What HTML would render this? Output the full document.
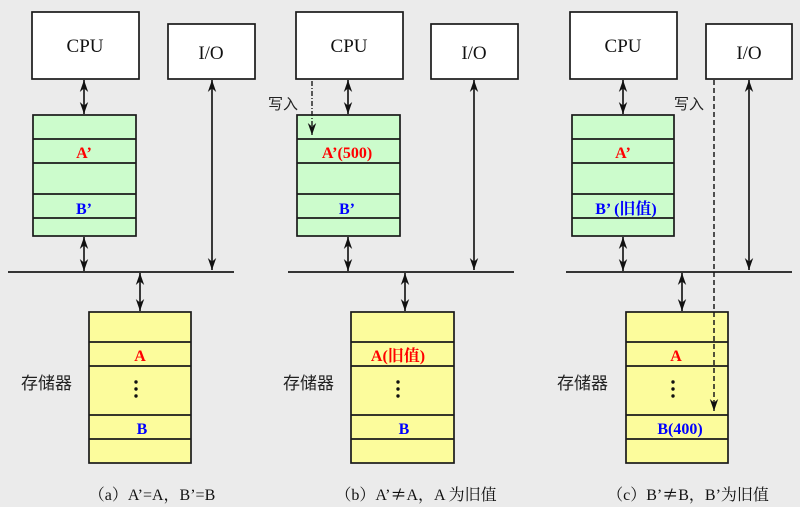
<!DOCTYPE html>
<html><head><meta charset="utf-8"><style>
html,body{margin:0;padding:0;background:#ebebeb;}
svg{display:block;}
.s{font-family:"Liberation Serif","Noto Serif CJK SC",serif;}
.c{font-family:"Liberation Sans","Noto Sans CJK SC",sans-serif;}
</style></head><body>
<svg width="800" height="507" viewBox="0 0 800 507" xmlns="http://www.w3.org/2000/svg">
<defs>
<marker id="ah" viewBox="0 0 10 10" refX="10" refY="5" markerWidth="12" markerHeight="12" orient="auto-start-reverse" markerUnits="userSpaceOnUse">
<path d="M0,1.5 L10,5 L0,8.5 L3,5 z" fill="#111"/>
</marker>
</defs>
<rect x="0" y="0" width="800" height="507" fill="#ebebeb"/>
<g stroke="#1a1a1a" stroke-width="1.7" fill="none">
<!-- Panel a -->
<rect x="32" y="12" width="107" height="67" fill="#fff"/>
<rect x="168" y="24" width="87" height="55" fill="#fff"/>
<rect x="33" y="115" width="103" height="121" fill="#ccfccc"/>
<line x1="33" y1="139" x2="136" y2="139"/><line x1="33" y1="163" x2="136" y2="163"/>
<line x1="33" y1="194" x2="136" y2="194"/><line x1="33" y1="218" x2="136" y2="218"/>
<line x1="8" y1="272" x2="234" y2="272" stroke-width="1.8"/>
<rect x="89" y="312" width="102" height="151" fill="#fcfc9c"/>
<line x1="89" y1="342" x2="191" y2="342"/><line x1="89" y1="366" x2="191" y2="366"/>
<line x1="89" y1="415" x2="191" y2="415"/><line x1="89" y1="439" x2="191" y2="439"/>
<line x1="84" y1="80" x2="84" y2="114" marker-start="url(#ah)" marker-end="url(#ah)"/>
<line x1="84" y1="237" x2="84" y2="271" marker-start="url(#ah)" marker-end="url(#ah)"/>
<line x1="212" y1="80" x2="212" y2="270" marker-start="url(#ah)" marker-end="url(#ah)"/>
<line x1="140" y1="273" x2="140" y2="311" marker-start="url(#ah)" marker-end="url(#ah)"/>
<!-- Panel b -->
<rect x="296" y="12" width="107" height="67" fill="#fff"/>
<rect x="431" y="24" width="87" height="55" fill="#fff"/>
<rect x="297" y="115" width="103" height="121" fill="#ccfccc"/>
<line x1="297" y1="139" x2="400" y2="139"/><line x1="297" y1="163" x2="400" y2="163"/>
<line x1="297" y1="194" x2="400" y2="194"/><line x1="297" y1="218" x2="400" y2="218"/>
<line x1="288" y1="272" x2="514" y2="272" stroke-width="1.8"/>
<rect x="351" y="312" width="103" height="151" fill="#fcfc9c"/>
<line x1="351" y1="342" x2="454" y2="342"/><line x1="351" y1="366" x2="454" y2="366"/>
<line x1="351" y1="415" x2="454" y2="415"/><line x1="351" y1="439" x2="454" y2="439"/>
<line x1="348" y1="80" x2="348" y2="114" marker-start="url(#ah)" marker-end="url(#ah)"/>
<line x1="348" y1="237" x2="348" y2="271" marker-start="url(#ah)" marker-end="url(#ah)"/>
<line x1="474" y1="80" x2="474" y2="270" marker-start="url(#ah)" marker-end="url(#ah)"/>
<line x1="405" y1="273" x2="405" y2="311" marker-start="url(#ah)" marker-end="url(#ah)"/>
<line x1="312" y1="81" x2="312" y2="135" stroke-dasharray="5,2,1,2" stroke-width="1.4" marker-end="url(#ah)"/>
<!-- Panel c -->
<rect x="570" y="12" width="107" height="67" fill="#fff"/>
<rect x="706" y="24" width="86" height="55" fill="#fff"/>
<rect x="572" y="115" width="102" height="121" fill="#ccfccc"/>
<line x1="572" y1="139" x2="674" y2="139"/><line x1="572" y1="163" x2="674" y2="163"/>
<line x1="572" y1="194" x2="674" y2="194"/><line x1="572" y1="218" x2="674" y2="218"/>
<line x1="566" y1="272" x2="792" y2="272" stroke-width="1.8"/>
<rect x="626" y="312" width="102" height="151" fill="#fcfc9c"/>
<line x1="626" y1="342" x2="728" y2="342"/><line x1="626" y1="366" x2="728" y2="366"/>
<line x1="626" y1="415" x2="728" y2="415"/><line x1="626" y1="439" x2="728" y2="439"/>
<line x1="623" y1="80" x2="623" y2="114" marker-start="url(#ah)" marker-end="url(#ah)"/>
<line x1="623" y1="237" x2="623" y2="271" marker-start="url(#ah)" marker-end="url(#ah)"/>
<line x1="749" y1="80" x2="749" y2="270" marker-start="url(#ah)" marker-end="url(#ah)"/>
<line x1="682" y1="273" x2="682" y2="311" marker-start="url(#ah)" marker-end="url(#ah)"/>
<line x1="714" y1="80" x2="714" y2="411" stroke-dasharray="5,3" stroke-width="1.5" marker-end="url(#ah)"/>
</g>
<g class="s" font-size="19" fill="#111" text-anchor="middle">
<text x="85" y="52">CPU</text><text x="211" y="59">I/O</text>
<text x="349" y="52">CPU</text><text x="474" y="59">I/O</text>
<text x="623" y="52">CPU</text><text x="749" y="59">I/O</text>
</g>
<g class="s" font-size="16" font-weight="bold" text-anchor="middle">
<text x="84" y="158" fill="#f00">A’</text>
<text x="84" y="214" fill="#00f">B’</text>
<text x="140" y="361" fill="#f00">A</text>
<text x="142" y="434" fill="#00f">B</text>
<text x="347" y="158" fill="#f00">A’(500)</text>
<text x="347" y="214" fill="#00f">B’</text>
<text x="398" y="361" fill="#f00">A(旧值)</text>
<text x="404" y="434" fill="#00f">B</text>
<text x="623" y="158" fill="#f00">A’</text>
<text x="626" y="214" fill="#00f">B’ (旧值)</text>
<text x="676" y="361" fill="#f00">A</text>
<text x="680" y="434" fill="#00f">B(400)</text>
</g>
<g fill="#111">
<circle cx="136" cy="382" r="1.7"/><circle cx="136" cy="389" r="1.7"/><circle cx="136" cy="396" r="1.7"/>
<circle cx="398" cy="382" r="1.7"/><circle cx="398" cy="389" r="1.7"/><circle cx="398" cy="396" r="1.7"/>
<circle cx="673" cy="382" r="1.7"/><circle cx="673" cy="389" r="1.7"/><circle cx="673" cy="396" r="1.7"/>
</g>
<g class="c" font-size="17" fill="#222">
<text x="21" y="389">存储器</text>
<text x="283" y="389">存储器</text>
<text x="557" y="389">存储器</text>
<text x="268" y="109" font-size="15">写入</text>
<text x="674" y="109" font-size="15">写入</text>
</g>
<g class="s" font-size="16" fill="#111" text-anchor="middle">
<text x="152" y="500">（a）A’=A，B’=B</text>
<text x="416" y="500">（b）A’<tspan font-family="Noto Sans CJK SC">≠</tspan>A，A 为旧值</text>
<text x="688" y="500">（c）B’<tspan font-family="Noto Sans CJK SC">≠</tspan>B，B’为旧值</text>
</g>
</svg>
</body></html>
